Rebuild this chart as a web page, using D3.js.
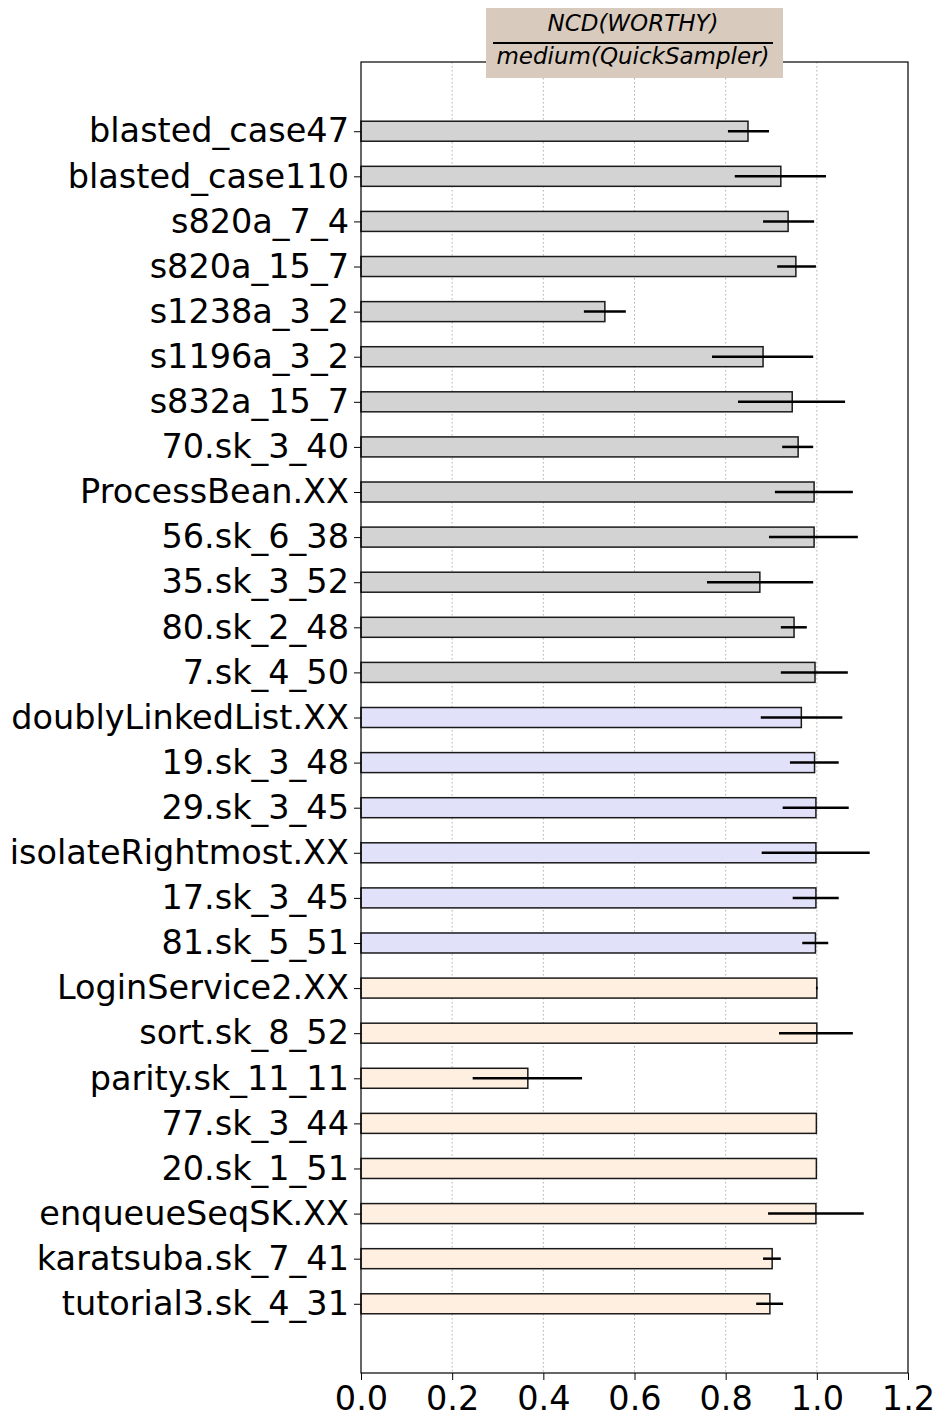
<!DOCTYPE html>
<html>
<head>
<meta charset="utf-8">
<script src="https://cdn.jsdelivr.net/npm/d3@7"></script>
<style>
  body { margin: 0; background: #fff; }
  svg { font-family: 'DejaVu Sans', sans-serif; }
</style>
</head>
<body>
<div class="chart"></div>
<script>
const categories = [
  'blasted_case47', 'blasted_case110', 's820a_7_4', 's820a_15_7', 's1238a_3_2',
  's1196a_3_2', 's832a_15_7', '70.sk_3_40', 'ProcessBean.XX', '56.sk_6_38',
  '35.sk_3_52', '80.sk_2_48', '7.sk_4_50', 'doublyLinkedList.XX', '19.sk_3_48',
  '29.sk_3_45', 'isolateRightmost.XX', '17.sk_3_45', '81.sk_5_51', 'LoginService2.XX',
  'sort.sk_8_52', 'parity.sk_11_11', '77.sk_3_44', '20.sk_1_51', 'enqueueSeqSK.XX',
  'karatsuba.sk_7_41', 'tutorial3.sk_4_31'
];
const values = [
  0.849, 0.921, 0.937, 0.954, 0.535,
  0.882, 0.946, 0.959, 0.994, 0.994,
  0.875, 0.950, 0.996, 0.966, 0.995,
  0.998, 0.998, 0.998, 0.997, 1.000,
  1.000, 0.366, 0.999, 0.999, 0.998,
  0.902, 0.897
];
const errLow = [
  0.805, 0.820, 0.882, 0.913, 0.489,
  0.770, 0.827, 0.924, 0.908, 0.895,
  0.759, 0.921, 0.921, 0.877, 0.941,
  0.925, 0.879, 0.947, 0.968, 0.998,
  0.917, 0.245, 0.999, 0.999, 0.893,
  0.882, 0.867
];
const errHigh = [
  0.895, 1.020, 0.994, 0.998, 0.581,
  0.992, 1.062, 0.992, 1.079, 1.090,
  0.992, 0.978, 1.068, 1.056, 1.048,
  1.070, 1.116, 1.048, 1.025, 1.002,
  1.079, 0.485, 0.999, 0.999, 1.103,
  0.921, 0.926
];
// group of each benchmark -> fill colour
const groups = [
  0, 0, 0, 0, 0, 0, 0, 0, 0, 0, 0, 0, 0,
  1, 1, 1, 1, 1, 1,
  2, 2, 2, 2, 2, 2, 2, 2
];
const groupColors = ['#d3d3d3', '#e1e1fa', '#feefe0'];
const xTicks = [0, 0.2, 0.4, 0.6, 0.8, 1.0, 1.2];

const width = 937, height = 1414;
const margin = { top: 62, right: 29, bottom: 41, left: 361 };
const iw = width - margin.left - margin.right;
const ih = height - margin.top - margin.bottom;

const svg = d3.select('.chart').append('svg')
  .attr('width', width).attr('height', height);
const g = svg.append('g').attr('transform', `translate(${margin.left},${margin.top})`);

const x = d3.scaleLinear().domain([0, 1.2]).range([0, iw]);
const y = d3.scaleLinear().domain([-1.535, categories.length - 1 + 1.535]).range([0, ih]);
const barH = 20;

// grid
g.selectAll('line.grid').data(xTicks.slice(1, -1)).enter().append('line')
  .attr('x1', d => x(d)).attr('x2', d => x(d))
  .attr('y1', 0).attr('y2', ih)
  .attr('stroke', '#b0b0b0').attr('stroke-width', 1)
  .attr('stroke-dasharray', '1.5,2.5');

// bars
g.selectAll('rect.bar').data(categories).enter().append('rect')
  .attr('x', x(0))
  .attr('y', (d, i) => y(i) - barH / 2)
  .attr('width', (d, i) => x(values[i]) - x(0))
  .attr('height', barH)
  .attr('fill', (d, i) => groupColors[groups[i]])
  .attr('stroke', '#1a1a1a').attr('stroke-width', 1.5);

// error bars
g.selectAll('line.err').data(categories).enter().append('line')
  .attr('x1', (d, i) => x(errLow[i])).attr('x2', (d, i) => x(errHigh[i]))
  .attr('y1', (d, i) => y(i)).attr('y2', (d, i) => y(i))
  .attr('stroke', '#000').attr('stroke-width', 2.5);

// axes
const xAxis = g.append('g').attr('transform', `translate(0,${ih})`)
  .call(d3.axisBottom(x).tickValues(xTicks).tickFormat(d3.format('.1f')).tickSize(7).tickPadding(3));
const yAxis = g.append('g')
  .call(d3.axisLeft(y).tickValues(d3.range(categories.length)).tickFormat(i => categories[i]).tickSize(7).tickPadding(5));
[xAxis, yAxis].forEach(a => {
  a.select('.domain').remove();
  a.selectAll('text').attr('fill', '#000').style('font-size', '33.5px').style('font-family', "'DejaVu Sans', sans-serif");
  a.selectAll('line').attr('stroke', '#000');
});
xAxis.selectAll('text').attr('dy', '0.8em');

// frame
g.append('rect').attr('x', 0).attr('y', 0).attr('width', iw).attr('height', ih)
  .attr('fill', 'none').attr('stroke', '#000').attr('stroke-width', 1.2);

// title box
const tb = svg.append('g');
tb.append('rect').attr('x', 486).attr('y', 8).attr('width', 297).attr('height', 70)
  .attr('fill', '#d8cbbe');
tb.append('text').attr('x', 633).attr('y', 31).attr('text-anchor', 'middle')
  .style('font-size', '23px').style('font-style', 'italic').text('NCD(WORTHY)');
tb.append('line').attr('x1', 493).attr('x2', 773).attr('y1', 43).attr('y2', 43)
  .attr('stroke', '#000').attr('stroke-width', 2);
tb.append('text').attr('x', 633).attr('y', 64).attr('text-anchor', 'middle')
  .style('font-size', '23px').style('font-style', 'italic').text('medium(QuickSampler)');
</script>
</body>
</html>
